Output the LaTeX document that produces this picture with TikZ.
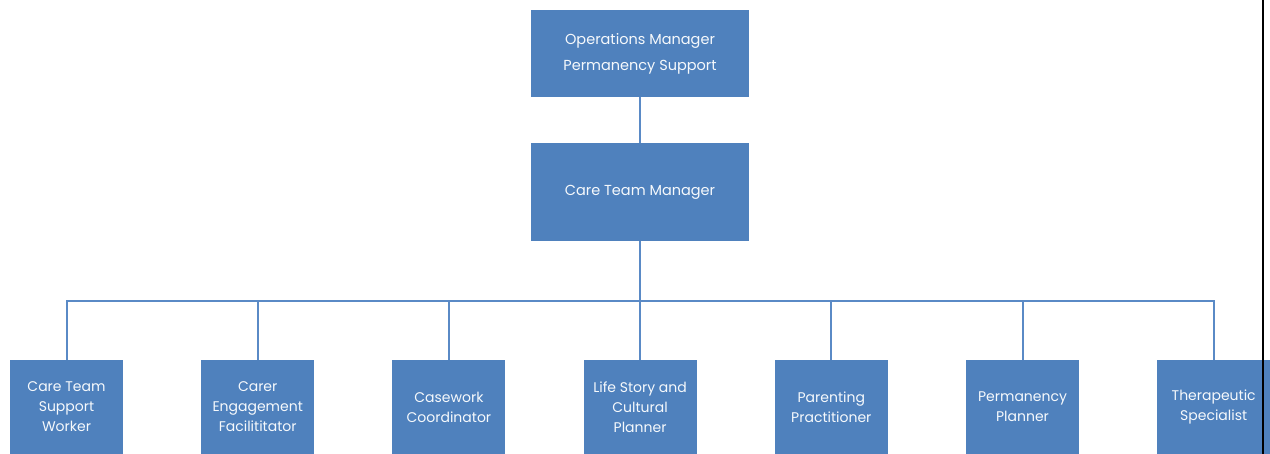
\documentclass[tikz,border=0pt]{standalone}
\usepackage{fontspec}
\setmainfont{Poppins}
\definecolor{boxblue}{HTML}{4F81BD}
\definecolor{lineblue}{HTML}{5A8AC6}
\begin{document}
\begin{tikzpicture}[x=1pt,y=-1pt,
  box/.style={fill=boxblue, draw=none, text=white!95!boxblue, align=center, inner sep=0pt},
  topbox/.style={box, minimum width=218pt, font=\fontsize{14.5}{26}\selectfont},
  leaf/.style={box, minimum width=113pt, minimum height=94pt, font=\fontsize{14}{20}\selectfont},
  conn/.style={draw=lineblue, line width=2pt}]
\useasboundingbox (0,0) rectangle (1270,454);
\node[topbox, minimum height=87pt] (ops) at (640,53.5) {Operations Manager\\Permanency Support};
\node[topbox, minimum height=98pt] (ctm) at (640,192) {Care Team Manager};
\coordinate (busy) at (640,301);
\node[leaf] (c1) at (66.5,407) {Care Team\\Support\\Worker};
\node[leaf] (c2) at (257.7,407) {Carer\\Engagement\\Facilititator};
\node[leaf] (c3) at (448.9,407) {Casework\\Coordinator};
\node[leaf] (c4) at (640.1,407) {Life Story and\\Cultural\\Planner};
\node[leaf] (c5) at (831.3,407) {Parenting\\Practitioner};
\node[leaf] (c6) at (1022.5,407) {Permanency\\Planner};
\node[leaf] (c7) at (1213.7,407) {Therapeutic\\Specialist};
\draw[conn] (ops.south) -- (ctm.north);
\foreach \c in {c1,c2,c3,c4,c5,c6,c7}
  \draw[conn] (ctm.south) -- (ctm.south |- busy) -| (\c.north);
\draw[line width=2.5pt] (1263,0) -- (1263,454);
\end{tikzpicture}
\end{document}
